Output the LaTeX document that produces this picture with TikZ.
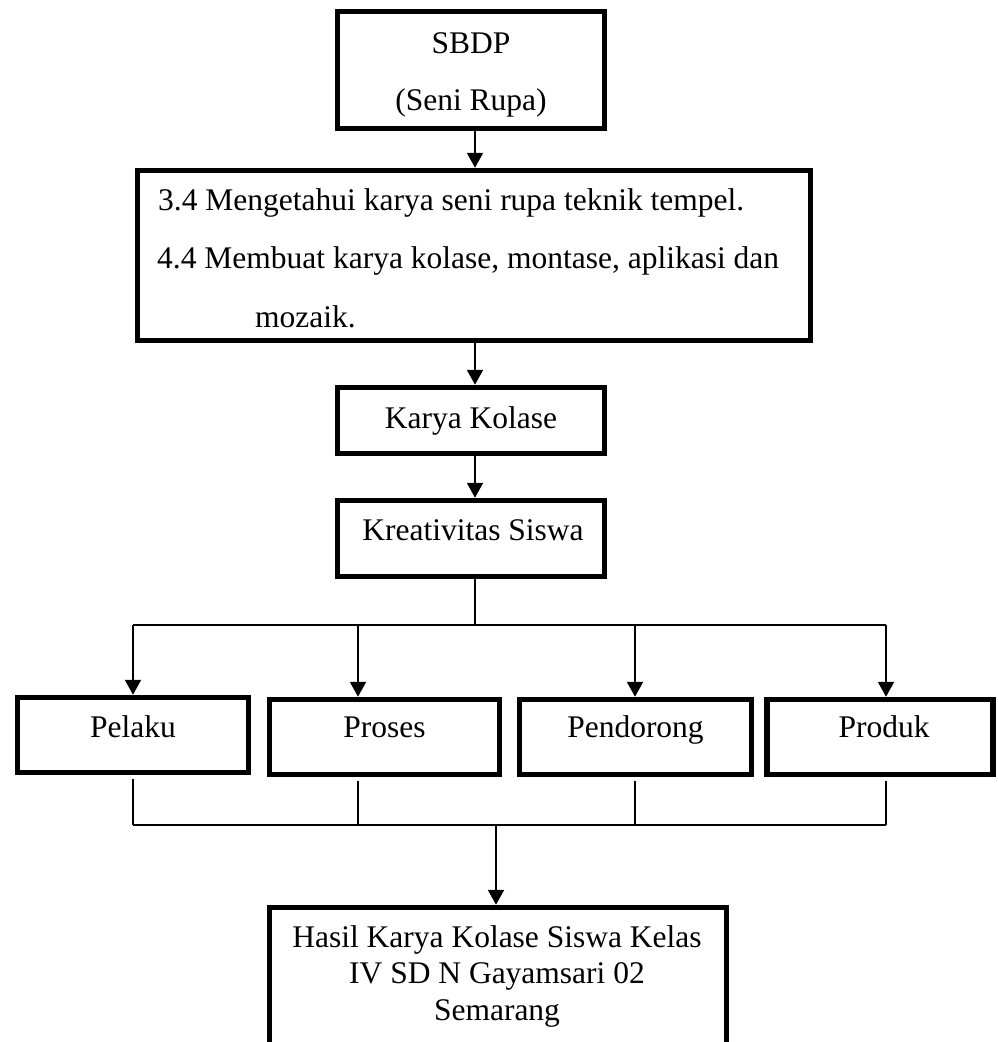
\documentclass[tikz,border=0pt]{standalone}
\usepackage{fontspec}
\setmainfont{Liberation Serif}
\usetikzlibrary{arrows.meta,calc}
\begin{document}
\begin{tikzpicture}[x=1pt,y=-1pt,
  box/.style={draw=black,line width=5.5pt,rectangle,inner sep=0pt},
  txt/.style={inner sep=0pt,font=\fontsize{31.5}{36.5}\selectfont},
  arr/.style={line width=2.2pt,-{Triangle[width=16pt,length=15pt]}},
  conn/.style={line width=1.8pt}]
\useasboundingbox (0,0) rectangle (998,1042);
\clip (0,0) rectangle (998,1042);
% boxes
\node[box,minimum width=267pt,minimum height=117pt] (sbdp) at (471,70) {};
\node[box,minimum width=673pt,minimum height=170pt] (kd) at (474,255.5) {};
\node[box,minimum width=267pt,minimum height=66pt] (kk) at (471,420.5) {};
\node[box,minimum width=267pt,minimum height=76pt] (kre) at (471,538.5) {};
\node[box,minimum width=231pt,minimum height=75pt] (pel) at (133,735) {};
\node[box,minimum width=230pt,minimum height=75pt] (pro) at (384.5,737) {};
\node[box,minimum width=232pt,minimum height=75pt] (pen) at (635.5,737) {};
\node[box,minimum width=226pt,minimum height=75pt] (prd) at (880,737) {};
\node[box,minimum width=457pt,minimum height=160pt] (fin) at (498,987.5) {};
% texts
\node[txt,anchor=base] (t-sbdp) at (471,53) {SBDP};
\node[txt,anchor=base] (t-seni) at (471,110) {(Seni Rupa)};
\node[txt,anchor=base west] (t-kd1) at (158,210) {3.4 Mengetahui karya seni rupa teknik tempel.};
\node[txt,anchor=base west] (t-kd2) at (157,268) {4.4 Membuat karya kolase, montase, aplikasi dan};
\node[txt,anchor=base west] (t-kd3) at (255,327) {mozaik.};
\node[txt,anchor=base] (t-kk) at (471,428) {Karya Kolase};
\node[txt,anchor=base] (t-kre) at (473,540) {Kreativitas Siswa};
\node[txt,anchor=base] (t-pel) at (133,737) {Pelaku};
\node[txt,anchor=base] (t-pro) at (384.5,737) {Proses};
\node[txt,anchor=base] (t-pen) at (635.5,737) {Pendorong};
\node[txt,anchor=base] (t-prd) at (884,737) {Produk};
\node[txt,anchor=base] (t-fin1) at (497,947) {Hasil Karya Kolase Siswa Kelas};
\node[txt,anchor=base] (t-fin2) at (497,983) {IV SD N Gayamsari 02};
\node[txt,anchor=base] (t-fin3) at (497,1020) {Semarang};
% coordinates
\coordinate (hub) at (475,625);
\coordinate (t1) at (133,625);
\coordinate (t2) at (358,625);
\coordinate (t3) at (635,625);
\coordinate (t4) at (886,625);
\coordinate (b1) at (133,825);
\coordinate (b2) at (358,825);
\coordinate (b3) at (635,825);
\coordinate (b4) at (886,825);
\coordinate (bh) at (496,825);
% connectors
\draw[arr] (sbdp.south -| 475,0) -- (kd.north -| 475,0);
\draw[arr] (kd.south -| 475,0) -- (kk.north -| 475,0);
\draw[arr] (kk.south -| 475,0) -- (kre.north -| 475,0);
\draw[conn] (kre.south -| hub) -- (hub);
\draw[conn] (t1) -- (t4);
\draw[arr] (t1) -- (t1 |- pel.north);
\draw[arr] (t2) -- (t2 |- pro.north);
\draw[arr] (t3) -- (t3 |- pen.north);
\draw[arr] (t4) -- (t4 |- prd.north);
\draw[conn,shorten <=4pt] (pel.south -| b1) -- (b1);
\draw[conn,shorten <=4pt] (pro.south -| b2) -- (b2);
\draw[conn,shorten <=4pt] (pen.south -| b3) -- (b3);
\draw[conn,shorten <=4pt] (prd.south -| b4) -- (b4);
\draw[conn] (b1) -- (b4);
\draw[arr] (bh) -- (bh |- fin.north);
\end{tikzpicture}
\end{document}
